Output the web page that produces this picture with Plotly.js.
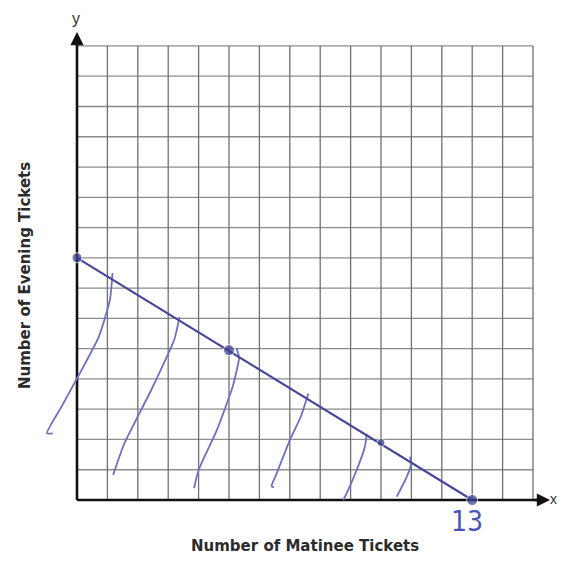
<!DOCTYPE html>
<html>
<head>
<meta charset="utf-8">
<script src="https://cdn.plot.ly/plotly-3.0.1.min.js"></script>
<style>html,body{margin:0;padding:0;background:#fff;}#chart{width:561px;height:567px;}</style>
</head>
<body>
<div id="chart"></div>
<script>
// ---- data ----
var gridValues = [0,1,2,3,4,5,6,7,8,9,10,11,12,13,14,15];
var lineX = [0, 13];
var lineY = [8, 0];
var pointsX = [0, 5, 10, 13];
var pointsY = [8, 4.95, 1.9, 0];
var pointSizes = [10, 11, 8, 11];
// hand-drawn shading strokes (data units)
var stroke1X = [1.17, 1.08, 0.72, 0.1, -0.5, -0.99, -0.8];
var stroke1Y = [7.5, 6.6, 5.4, 4.2, 3.1, 2.2, 2.2];
var stroke2X = [3.37, 3.2, 2.45, 1.55, 1.19];
var stroke2Y = [6.04, 5.3, 3.65, 1.85, 0.83];
var stroke3X = [5.25, 5.33, 5.12, 4.6, 4.0, 3.85];
var stroke3Y = [5.01, 4.7, 3.74, 2.31, 0.99, 0.39];
var stroke4X = [7.61, 7.36, 7.0, 6.57, 6.4, 6.48];
var stroke4Y = [3.52, 2.75, 1.98, 0.88, 0.46, 0.42];
var stroke5X = [9.53, 9.47, 9.2, 8.87, 8.76];
var stroke5Y = [2.18, 1.76, 0.99, 0.22, 0.0];
var stroke6X = [10.95, 11.0, 10.85, 10.52];
var stroke6Y = [1.43, 1.21, 0.77, 0.11];
var axisLenX = 15.3, axisLenY = 15.25;
var xTitle = "Number of Matinee Tickets";
var yTitle = "Number of Evening Tickets";
var answerLabel = "13";

// ---- build grid ----
var gmin = gridValues[0], gmax = gridValues[gridValues.length-1];
var vgx = [], vgy = [], hgx = [], hgy = [];
gridValues.forEach(function(v){
  vgx.push(v, v, null); vgy.push(gmin, gmax, null);
  hgx.push(gmin, gmax, null); hgy.push(v, v, null);
});

var ink = '#45479a';
var penLight = '#6b70c2';
function stroke(x, y){
  return {x:x, y:y, mode:'lines', line:{color:penLight, width:1.8, shape:'spline', smoothing:0.55},
          hoverinfo:'skip', showlegend:false};
}

var traces = [
  {x:hgx, y:hgy, mode:'lines', line:{color:'#8c8c8c', width:1.3}, hoverinfo:'skip', showlegend:false},
  {x:vgx, y:vgy, mode:'lines', line:{color:'#707070', width:1.3}, hoverinfo:'skip', showlegend:false},
  {x:[0, axisLenX], y:[0,0], mode:'lines', line:{color:'#111', width:2.6}, hoverinfo:'skip', showlegend:false},
  {x:[0,0], y:[0, axisLenY], mode:'lines', line:{color:'#111', width:2.6}, hoverinfo:'skip', showlegend:false},
  stroke(stroke1X, stroke1Y), stroke(stroke2X, stroke2Y), stroke(stroke3X, stroke3Y),
  stroke(stroke4X, stroke4Y), stroke(stroke5X, stroke5Y), stroke(stroke6X, stroke6Y),
  {x:lineX, y:lineY, mode:'lines', line:{color:ink, width:2.2}, hoverinfo:'skip', showlegend:false},
  {x:pointsX, y:pointsY, mode:'markers', marker:{color:'#3a3c8e', size:pointSizes}, cliponaxis:false, showlegend:false}
];

// pixel mapping: px = 77 + 30.4*x ; py = 500 - 30.27*y
var mL = 37, mR = 3, mT = 5, mB = 27;
var W = 561, H = 567;
var xr = [(mL-77)/30.4, (W-mR-77)/30.4];
var yr = [(500-(H-mB))/30.27, (500-mT)/30.27];
var pw = W-mL-mR, ph = H-mT-mB;
function px2paper(px){ return (px-mL)/pw; }
function py2paper(py){ return (H-mB-py)/ph; }

var titleFont = {family:'DejaVu Sans', size:15, color:'#2b2b2b', weight:'bold'};

var layout = {
  width:W, height:H,
  margin:{l:mL, r:mR, t:mT, b:mB, pad:0},
  paper_bgcolor:'#fff', plot_bgcolor:'#fff',
  showlegend:false,
  xaxis:{range:xr, showgrid:false, zeroline:false, showticklabels:false, ticks:'', showline:false, fixedrange:true},
  yaxis:{range:yr, showgrid:false, zeroline:false, showticklabels:false, ticks:'', showline:false, fixedrange:true},
  annotations:[
    {xref:'x', yref:'y', x:15.56, y:0, axref:'x', ayref:'y', ax:15.0, ay:0, showarrow:true,
     arrowhead:2, arrowsize:1.1, arrowwidth:2.4, arrowcolor:'#111', text:''},
    {xref:'x', yref:'y', x:0, y:15.46, axref:'x', ayref:'y', ax:0, ay:15.0, showarrow:true,
     arrowhead:2, arrowsize:1.1, arrowwidth:2.4, arrowcolor:'#111', text:''},
    {xref:'x', yref:'y', x:-0.03, y:15.92, text:'y', showarrow:false,
     font:{family:'Liberation Sans', size:16, color:'#333'}},
    {xref:'paper', yref:'paper', x:px2paper(550), y:py2paper(499), text:'x', showarrow:false,
     xanchor:'left', yanchor:'middle', xshift:-2,
     font:{family:'Liberation Sans', size:14, color:'#333'}},
    {xref:'x', yref:'y', x:12.83, y:-0.7, text:answerLabel, showarrow:false,
     font:{family:'DejaVu Sans Condensed, Liberation Sans Narrow, sans-serif', size:28, color:'#4c52b8'}},
    {xref:'paper', yref:'paper', x:px2paper(305), y:py2paper(557), text:xTitle, showarrow:false,
     font:titleFont},
    {xref:'paper', yref:'paper', x:px2paper(14), y:py2paper(276), text:yTitle, showarrow:false,
     textangle:-90, font:titleFont}
  ]
};

Plotly.newPlot('chart', traces, layout, {staticPlot:true, displayModeBar:false});
</script>
</body>
</html>
